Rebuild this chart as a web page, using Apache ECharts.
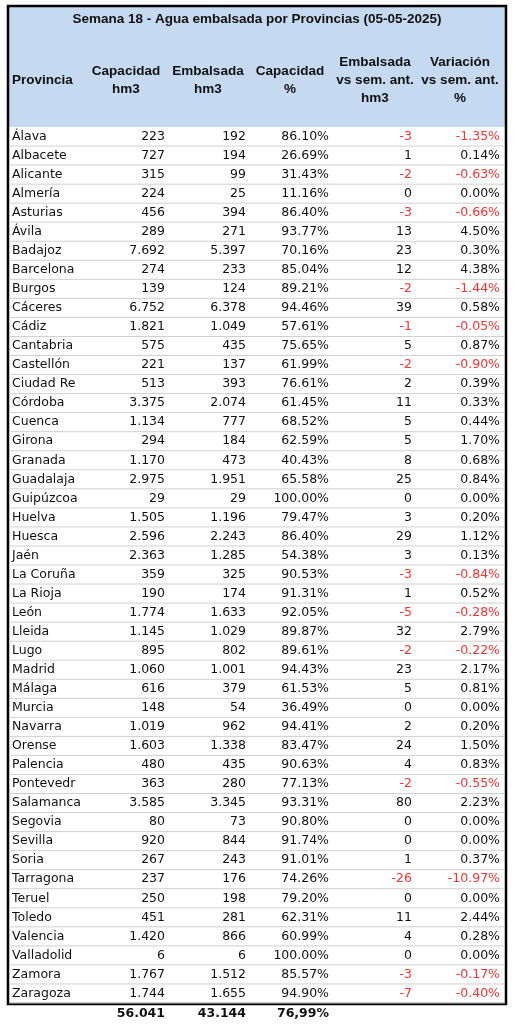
<!DOCTYPE html>
<html><head><meta charset="utf-8">
<script src="https://cdn.jsdelivr.net/npm/echarts@6/dist/echarts.min.js"></script>
<style>html,body{margin:0;padding:0;background:#fff}#c{width:516px;height:1024px}</style>
</head><body><div id="c"></div>
<script>
const provincias=["Álava","Albacete","Alicante","Almería","Asturias","Ávila","Badajoz","Barcelona","Burgos","Cáceres","Cádiz","Cantabria","Castellón","Ciudad Re","Córdoba","Cuenca","Girona","Granada","Guadalaja","Guipúzcoa","Huelva","Huesca","Jaén","La Coruña","La Rioja","León","Lleida","Lugo","Madrid","Málaga","Murcia","Navarra","Orense","Palencia","Pontevedr","Salamanca","Segovia","Sevilla","Soria","Tarragona","Teruel","Toledo","Valencia","Valladolid","Zamora","Zaragoza"];
const capacidad=[223,727,315,224,456,289,7692,274,139,6752,1821,575,221,513,3375,1134,294,1170,2975,29,1505,2596,2363,359,190,1774,1145,895,1060,616,148,1019,1603,480,363,3585,80,920,267,237,250,451,1420,6,1767,1744];
const embalsada=[192,194,99,25,394,271,5397,233,124,6378,1049,435,137,393,2074,777,184,473,1951,29,1196,2243,1285,325,174,1633,1029,802,1001,379,54,962,1338,435,280,3345,73,844,243,176,198,281,866,6,1512,1655];
const capPct=[86.10,26.69,31.43,11.16,86.40,93.77,70.16,85.04,89.21,94.46,57.61,75.65,61.99,76.61,61.45,68.52,62.59,40.43,65.58,100.00,79.47,86.40,54.38,90.53,91.31,92.05,89.87,89.61,94.43,61.53,36.49,94.41,83.47,90.63,77.13,93.31,90.80,91.74,91.01,74.26,79.20,62.31,60.99,100.00,85.57,94.90];
const varHm3=[-3,1,-2,0,-3,13,23,12,-2,39,-1,5,-2,2,11,5,5,8,25,0,3,29,3,-3,1,-5,32,-2,23,5,0,2,24,4,-2,80,0,0,1,-26,0,11,4,0,-3,-7];
const varPct=[-1.35,0.14,-0.63,0.00,-0.66,4.50,0.30,4.38,-1.44,0.58,-0.05,0.87,-0.90,0.39,0.33,0.44,1.70,0.68,0.84,0.00,0.20,1.12,0.13,-0.84,0.52,-0.28,2.79,-0.22,2.17,0.81,0.00,0.20,1.50,0.83,-0.55,2.23,0.00,0.00,0.37,-10.97,0.00,2.44,0.28,0.00,-0.17,-0.40];
const totales=["56.041","43.144","76,99%"];
const titulo="Semana 18 - Agua embalsada por Provincias (05-05-2025)";
const cabeceras=["Provincia","Capacidad\nhm3","Embalsada\nhm3","Capacidad\n%","Embalsada\nvs sem. ant.\nhm3","Variación\nvs sem. ant.\n%"];

const fmt=n=>String(n).replace(/\B(?=(\d{3})+(?!\d))/g,'.');
const FONT='DejaVu Sans';
const HF='bold 13.5px "Liberation Sans"';
const RED='#ff3030';
const data=provincias.map((p,i)=>[i,p,fmt(capacidad[i]),fmt(embalsada[i]),capPct[i].toFixed(2)+'%',String(varHm3[i]),varPct[i].toFixed(2)+'%',varHm3[i]<0?1:0,varPct[i]<0?1:0]);
const colX=[12,165,246,329,412,500];
const hdr=(t,x,al)=>({type:'text',style:{text:t,x:x,y:80,font:HF,fill:'#111',textAlign:al||'center',textVerticalAlign:'middle',lineHeight:18}});
const chart=echarts.init(document.getElementById('c'));
chart.setOption({
  animation:false,
  grid:{left:9,right:11,top:127,bottom:21},
  xAxis:{type:'value',min:0,max:1,show:false},
  yAxis:{type:'category',data:provincias,inverse:true,show:false},
  series:[{type:'custom',data:data,
    encode:{y:0},
    renderItem:(params,api)=>{
      const i=api.value(0);
      const y=api.coord([0,i])[1];
      const h=api.size([0,1])[1];
      const d=data[i];
      const ch=[{type:'line',shape:{x1:9,y1:y+h/2,x2:505,y2:y+h/2},style:{stroke:'#d0d0d0',lineWidth:1}}];
      ch.push({type:'text',style:{text:d[1],x:colX[0],y:y,font:'12.5px '+FONT,fill:'#111',textVerticalAlign:'middle',textAlign:'left'}});
      for(let k=1;k<6;k++){
        let red=(k===4&&d[7])||(k===5&&d[8]);
        ch.push({type:'text',style:{text:d[k+1],x:colX[k],y:y,font:'12.5px '+FONT,fill:red?RED:'#111',textVerticalAlign:'middle',textAlign:'right'}});
      }
      return {type:'group',children:ch};
    }}],
  graphic:[
    {type:'rect',shape:{x:9,y:7,width:496,height:120},style:{fill:'#c5d9f0'},z:-1},
    {type:'text',style:{text:titulo,x:257,y:19,font:HF,fill:'#111',textAlign:'center',textVerticalAlign:'middle'}},
    hdr(cabeceras[0],12,'left'),
    hdr(cabeceras[1],126),
    hdr(cabeceras[2],208),
    hdr(cabeceras[3],290),
    hdr(cabeceras[4],375),
    hdr(cabeceras[5],460),
    {type:'rect',shape:{x:8,y:6,width:498,height:998},style:{fill:'none',stroke:'#000',lineWidth:2.5}},
    {type:'text',style:{text:totales[0],x:165,y:1014,font:'bold 12.5px '+FONT,fill:'#111',textAlign:'right',textVerticalAlign:'middle'}},
    {type:'text',style:{text:totales[1],x:246,y:1014,font:'bold 12.5px '+FONT,fill:'#111',textAlign:'right',textVerticalAlign:'middle'}},
    {type:'text',style:{text:totales[2],x:329,y:1014,font:'bold 12.5px '+FONT,fill:'#111',textAlign:'right',textVerticalAlign:'middle'}}
  ]
});
</script></body></html>
